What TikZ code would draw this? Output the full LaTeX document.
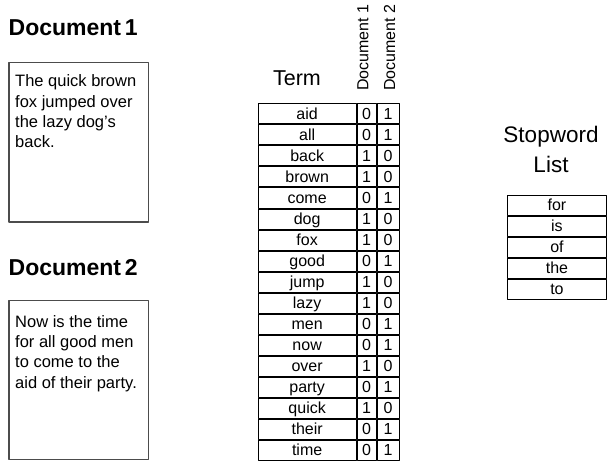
\documentclass[tikz,border=0pt]{standalone}
\usepackage{fontspec}
\setmainfont{Liberation Sans}
\begin{document}
\begin{tikzpicture}[x=1pt,y=-1pt,line join=round,
	docbox/.style={draw=black!70,line width=1.2pt,anchor=north west,inner sep=0pt,minimum width=139.5pt,minimum height=159pt},
	doctext/.style={anchor=base west,align=left,inner sep=0pt,font=\fontsize{16.5}{20.3}\selectfont},
	doctitle/.style={anchor=base west,inner sep=0pt,font=\fontsize{23}{26}\selectfont\bfseries},
	cell/.style={draw,line width=0.8pt,anchor=north west,inner sep=0pt,minimum height=20pt,text height=12pt,text depth=1pt,font=\fontsize{16}{18}\selectfont}]
	\useasboundingbox (0,0) rectangle (616,468);
	% the two documents (base = last line)
	\node[doctitle] (title1) at (8.5,36) {Document\,1};
	\node[docbox] (doc1) at (8.3,62.3) {};
	\node[doctext] (text1) at (15,147.9) {The quick brown\\fox jumped over\\the lazy dog’s\\back.};
	\node[doctitle] (title2) at (8.5,275) {Document\,2};
	\node[docbox] (doc2) at (8.3,300) {};
	\node[doctext] (text2) at (15,388.2) {Now is the time\\for all good men\\to come to the\\aid of their party.};
	% term table
	\node[anchor=base,inner sep=0pt,font=\fontsize{21.5}{24}\selectfont] (term) at (297,86) {Term};
	\node[rotate=90,anchor=base west,inner sep=0pt,font=\fontsize{16}{18}\selectfont] (head1) at (368.3,91) {Document 1};
	\node[rotate=90,anchor=base west,inner sep=0pt,font=\fontsize{16}{18}\selectfont] (head2) at (395,91) {Document 2};
	\foreach \w/\a/\b [count=\i] in {aid/0/1,all/0/1,back/1/0,brown/1/0,come/0/1,dog/1/0,fox/1/0,good/0/1,jump/1/0,lazy/1/0,men/0/1,now/0/1,over/1/0,party/0/1,quick/1/0,their/0/1,time/0/1}{
		\node[cell,minimum width=97.5pt] (t\i) at (258,{103.5+21*(\i-1)}) {\w};
		\node[cell,minimum width=19.5pt] (a\i) at (356.5,{103.5+21*(\i-1)}) {\a};
		\node[cell,minimum width=21.5pt] (b\i) at (377,{103.5+21*(\i-1)}) {\b};
	}
	% stopword list
	\node[anchor=base,align=center,inner sep=0pt,font=\fontsize{22.5}{30}\selectfont] (stop) at (551,172.3) {Stopword\\List};
	\foreach \w [count=\i] in {for,is,of,the,to}
		\node[cell,minimum width=98.5pt] (s\i) at (507.3,{195+21*(\i-1)}) {\w};
\end{tikzpicture}
\end{document}
